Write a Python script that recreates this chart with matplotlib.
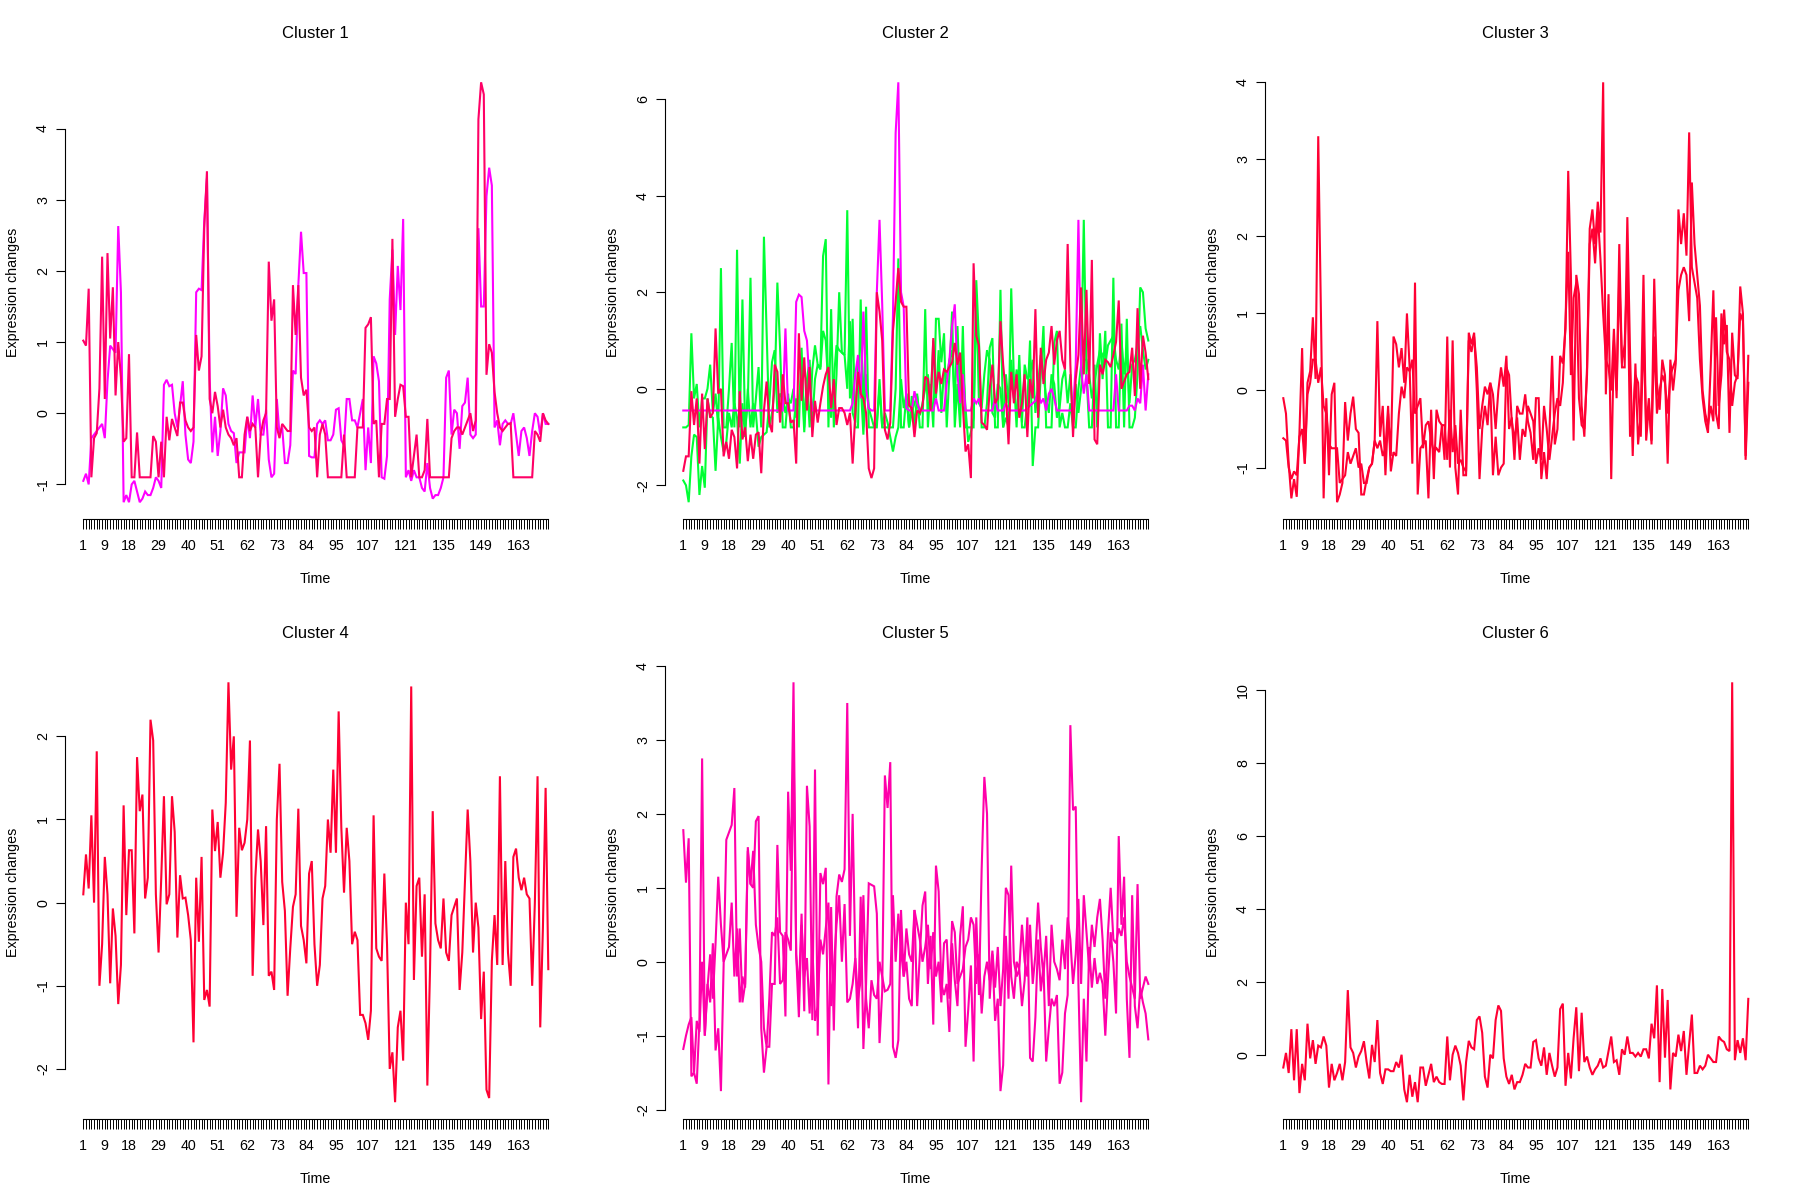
import numpy as np
import matplotlib
matplotlib.use("Agg")
import matplotlib.pyplot as plt

plt.rcParams['font.family'] = ['Liberation Sans', 'DejaVu Sans']

N_TIME = 174
time = np.arange(1, N_TIME + 1)
time_labels = [1, 9, 18, 29, 40, 51, 62, 73, 84, 95, 107, 121, 135, 149, 163]

# ---------------- Cluster 1 ----------------
c1_red = [
    1.02, 0.95, 1.75, -0.9, -0.35, -0.28, 0.35, 2.2, 0.2, 2.25,
    1.05, 1.77, 0.25, 1.0, 0.5, -0.4, -0.35, 0.83, -0.9, -0.9,
    -0.27, -0.9, -0.9, -0.9, -0.9, -0.9, -0.32, -0.4, -0.9, -0.4,
    -0.9, -0.05, -0.38, -0.08, -0.2, -0.32, 0.15, 0.15, -0.1, -0.2,
    -0.25, -0.2, 1.1, 0.6, 0.8, 2.6, 3.4, 0.2, 0.0, 0.3,
    0.1, -0.2, 0.05, -0.2, -0.3, -0.35, -0.45, -0.35, -0.9, -0.9,
    -0.3, -0.05, -0.25, -0.15, -0.2, -0.9, -0.3, -0.1, 0.0, 2.13,
    1.3, 1.6, -0.2, -0.35, -0.15, -0.2, -0.25, -0.25, 1.8, 1.1,
    1.8, 0.5, 0.25, 0.33, -0.2, -0.25, -0.2, -0.9, -0.3, -0.15,
    -0.3, -0.9, -0.9, -0.9, -0.9, -0.9, -0.9, -0.3, -0.9, -0.9,
    -0.9, -0.9, -0.2, -0.2, -0.2, 1.2, 1.25, 1.35, -0.15, -0.1,
    -0.9, -0.15, -0.15, 0.2, 0.2, 2.45, -0.05, 0.2, 0.4, 0.38,
    -0.05, -0.05, -0.9, -0.6, -0.3, -0.9, -0.9, -0.8, -0.08, -0.9,
    -0.9, -0.9, -0.9, -0.9, -0.9, -0.9, -0.9, -0.35, -0.25, -0.2,
    -0.2, -0.3, -0.2, -0.1, 0.0, -0.25, -0.1, 4.13, 4.65, 4.48,
    0.54, 0.97, 0.85, 0.3, 0.0, -0.2, -0.25, -0.2, -0.15, -0.14,
    -0.9, -0.9, -0.9, -0.9, -0.9, -0.9, -0.9, -0.9, -0.25, -0.3,
    -0.4, 0.0, -0.1, -0.15]
c1_magenta = [
    -0.95, -0.85, -1.0, -0.35, -0.3, -0.25, -0.2, -0.15, -0.35, 0.45,
    0.95, 0.9, 0.85, 2.63, 1.7, -1.25, -1.15, -1.25, -1.0, -0.95,
    -1.1, -1.25, -1.2, -1.1, -1.15, -1.15, -1.05, -0.9, -0.95, -1.05,
    0.4, 0.47, 0.38, 0.4, 0.0, -0.2, 0.1, 0.45, -0.3, -0.65,
    -0.7, -0.4, 1.7, 1.75, 1.73, 2.7, 3.3, 0.5, -0.55, -0.05,
    -0.6, -0.25, 0.35, 0.25, -0.15, -0.25, -0.28, -0.7, -0.55, -0.55,
    -0.55, -0.05, -0.35, 0.25, -0.2, 0.2, -0.3, -0.3, 0.05, -0.65,
    -0.9, -0.85, 0.2, -0.3, -0.2, -0.7, -0.7, -0.45, 0.6, 0.55,
    1.8, 2.55, 1.97, 1.97, -0.6, -0.62, -0.62, -0.15, -0.1, -0.15,
    -0.1, -0.38, -0.38, -0.3, 0.05, 0.07, -0.38, -0.45, 0.2, 0.2,
    -0.1, -0.1, -0.2, 0.0, 0.2, -0.8, -0.2, -0.7, 0.8, 0.7,
    0.45, -0.9, -0.92, -0.6, 1.6, 2.3, 1.1, 2.07, 1.45, 2.73,
    -0.9, -0.8, -0.95, -0.8, -0.9, -0.9, -1.05, -1.1, -0.7, -1.05,
    -1.2, -1.15, -1.15, -1.05, -0.9, 0.5, 0.6, -0.3, 0.05, 0.0,
    -0.5, 0.1, 0.15, 0.5, -0.3, -0.35, -0.3, 2.6, 1.5, 1.5,
    3.05, 3.45, 3.2, -0.2, -0.1, -0.45, -0.15, -0.1, -0.15, -0.15,
    0.0, -0.3, -0.6, -0.25, -0.2, -0.35, -0.6, -0.25, 0.0, -0.05,
    -0.3, 0.0, -0.15, -0.15]

# ---------------- Cluster 2 ----------------
c2_green_a = [
    -0.8, -0.8, -0.75, 1.15, -0.2, 0.1, -0.8, -0.2, -0.2, 0.0,
    0.5, -0.5, -0.1, -0.8, 2.5, -0.8, -0.8, 0.0, 0.95, -0.8,
    2.88, -0.8, 1.85, -0.8, -0.3, 2.3, -0.8, -0.2, 0.45, -0.8,
    3.15, 1.2, -0.8, -0.5, 0.0, 2.2, 0.85, -0.8, -0.8, -0.1,
    -0.8, -0.8, -0.2, -0.8, 0.85, -0.8, 0.2, -0.8, 0.4, 0.9,
    0.5, 0.45, 2.75, 3.1, -0.8, 1.65, -0.8, 0.3, 2.0, 0.75,
    0.7, 3.7, -0.2, 1.45, -0.8, -0.8, 1.85, -0.8, 1.7, -0.8,
    -0.8, -0.8, -0.8, 0.2, -0.8, -0.8, -0.8, -0.8, -0.8, 0.0,
    2.7, -0.8, -0.8, -0.1, -0.8, -0.15, -0.8, -0.1, -0.8, -0.8,
    1.65, -0.8, 0.1, -0.8, 1.45, 1.45, 0.55, 1.15, -0.8, 0.3,
    1.6, -0.8, 0.1, -0.8, 1.3, -0.8, -0.8, -0.8, -0.8, 2.25,
    1.0, -0.8, -0.8, -0.3, 0.85, 1.05, -0.8, -0.8, 2.05, -0.8,
    -0.6, -0.8, 2.08, 0.2, -0.8, 0.7, -0.8, -0.8, -0.3, 1.0,
    -1.6, -0.8, -0.8, 0.3, 1.3, -0.8, -0.8, -0.8, 0.95, 1.2,
    -0.8, -0.5, -0.8, -0.8, -0.3, -0.8, -0.8, 0.0, 0.5, 3.5,
    0.3, -0.8, -0.8, 0.5, -0.8, 1.15, 0.2, 1.2, -0.8, -0.8,
    2.3, -0.8, -0.8, 1.35, -0.8, 1.45, -0.8, -0.8, -0.6, 0.3,
    2.1, 2.0, 1.25, 1.0]
c2_green_b = [
    -1.9, -2.0, -2.35, -1.4, -0.95, -1.0, -2.2, -1.6, -2.05, -0.2,
    -0.55, -0.6, -1.7, -0.6, -1.0, -1.3, -1.1, -0.5, -0.8, -0.3,
    -0.6, -1.55, -0.3, -1.0, 0.0, -0.8, -0.3, -0.5, -1.2, -1.0,
    -0.95, -0.9, -0.3, 0.55, 0.8, -0.5, -0.1, -0.2, -0.5, -0.2,
    -0.3, 0.0, -0.6, -0.2, 0.3, -0.9, 0.2, 0.6, -0.7, 0.2,
    0.5, 0.4, 1.2, 1.0, 0.0, -0.6, 0.2, 0.9, 0.8, 0.75,
    0.7, 0.0, 1.4, -0.5, -0.7, 0.5, 0.1, -0.95, 0.3, -0.4,
    -0.6, -0.8, -0.7, 0.0, -0.8, -0.5, -0.7, -1.0, -1.3, -1.0,
    -0.8, 0.2, -0.4, -0.1, -0.8, -0.5, -0.3, -0.15, -0.55, -0.3,
    0.0, 0.3, -0.3, 1.0, -0.2, 0.8, -0.5, 0.4, 0.2, 0.6,
    0.8, -0.3, 1.3, -0.2, 0.5, -0.4, -1.1, -0.9, -0.6, 1.9,
    -0.3, -0.4, 0.3, 0.8, 0.6, -0.5, -0.6, 0.1, 0.0, -0.8,
    0.3, -0.3, 0.6, -0.2, 0.4, 0.1, -0.7, 0.5, 0.2, 0.3,
    0.6, -0.5, 0.1, 0.7, 0.3, -0.2, -0.5, 0.3, 0.1, -0.6,
    -0.4, 0.2, 0.4, -0.3, 0.3, -0.7, 0.1, -0.5, 0.0, 0.6,
    0.6, 0.3, -0.2, 0.1, 0.5, 0.8, 0.7, 0.5, 0.9, 1.0,
    1.1, 0.6, 0.4, 1.0, 0.3, 0.8, -0.3, 0.5, 0.6, 0.9,
    1.3, 0.8, 0.4, 0.6]
c2_magenta = [
    -0.45, -0.45, -0.45, -0.45, -0.45, -0.45, -0.45, -0.45, -0.45, -0.45,
    -0.45, -0.45, -0.45, -0.45, -0.45, -0.45, -0.45, -0.45, -0.45, -0.45,
    -0.45, -0.45, -0.45, -0.45, -0.45, -0.45, -0.45, -0.45, -0.45, -0.45,
    -0.45, -0.45, -0.45, -0.45, -0.45, -0.45, -0.45, -0.45, 1.25, -0.45,
    -0.45, -0.45, 1.8, 1.95, 1.9, 1.2, 1.0, 0.1, -0.45, -0.45,
    -0.45, -0.45, -0.45, -0.45, -0.45, -0.45, -0.45, -0.45, -0.45, -0.45,
    -0.45, -0.45, -0.45, -0.3, 0.3, 0.7, -0.2, 1.6, 0.0, -0.4,
    -0.45, -0.45, 2.0, 3.5, 1.75, -0.45, -0.45, -0.45, 1.5, 5.3,
    6.35, 2.0, 1.7, -0.4, -0.45, -0.45, -0.05, -0.3, -0.45, -0.45,
    -0.45, -0.45, -0.45, -0.45, -0.2, -0.45, -0.45, -0.45, 0.1, 0.6,
    1.3, 1.75, 0.3, -0.3, 0.3, -0.45, -0.45, -0.45, -0.2, -0.3,
    -0.2, -0.45, -0.45, -0.45, -0.45, -0.45, -0.2, -0.45, -0.45, -0.45,
    -0.3, -0.45, -0.45, -0.45, -0.45, -0.45, -0.45, -0.45, -0.4, -0.35,
    -0.3, -0.25, -0.05, -0.3, -0.2, -0.45, -0.1, 0.0, -0.2, -0.45,
    -0.45, -0.45, -0.45, -0.45, -0.45, -0.45, 0.5, 3.5, 0.4, -0.1,
    0.3, -0.45, -0.45, -0.45, -0.45, -0.45, -0.45, -0.45, -0.45, -0.45,
    -0.45, 0.3, -0.45, -0.45, -0.45, -0.45, -0.35, -0.35, -0.45, -0.2,
    -0.3, 0.5, -0.45, 0.3]
c2_red = [
    -1.7, -1.4, -1.4, -0.05, -0.75, -0.2, -1.55, -0.1, -1.25, -0.2,
    -0.6, -0.5, 1.25, -0.1, 0.0, -1.4, -1.1, -1.45, -0.85, -1.0,
    -1.65, -0.05, -1.05, -0.8, -1.5, -0.95, -1.45, -0.95, -0.9, -1.75,
    -0.45, 0.15, -0.7, -0.9, 0.5, 0.35, -0.7, 0.3, -0.3, -0.3,
    -0.7, -0.65, -1.55, 1.15, -0.25, 0.65, -0.45, 0.45, -1.0, -0.25,
    -0.7, -0.3, 0.05, 0.3, 0.45, -0.4, 0.2, -0.75, -0.4, -0.4,
    -0.5, -0.75, -0.5, -1.55, -0.5, 0.35, -0.1, -0.2, -0.5, -1.65,
    -1.85, -1.65, 2.0, 1.6, 1.0, -0.85, -1.05, -0.7, 1.2, 1.8,
    2.5, 1.8, 1.7, 1.7, -0.35, -0.4, -1.0, -0.45, -0.5, -0.35,
    0.25, 0.2, -0.45, 1.05, -0.1, 0.35, 0.1, 0.4, 0.35, 0.45,
    0.55, 0.95, 0.5, 0.75, -0.35, -1.3, -1.15, -1.85, 2.6, 1.1,
    0.9, -0.7, -0.75, -0.85, 0.0, 0.5, -0.3, -0.2, 1.4, 0.5,
    -0.1, -1.15, 0.35, -0.3, 0.3, -0.6, -0.3, 0.3, -1.0, 0.2,
    -0.2, 1.65, -0.6, 0.85, 0.1, 0.6, 0.75, 1.3, 0.5, 1.0,
    1.2, 0.6, 0.4, 3.0, 0.5, -1.0, 0.2, 0.7, 2.1, 0.3,
    2.05, 0.1, 2.67, -1.05, -1.15, 0.5, 0.3, 0.6, 0.55, 0.45,
    0.7, 0.97, 1.83, 0.0, 0.15, 0.3, 0.35, 0.85, -0.15, 1.67,
    0.0, 1.1, 0.75, 0.2]

# ---------------- Cluster 3 ----------------
c3_red_a = [
    -0.1, -0.3, -0.95, -1.4, -1.15, -1.38, -0.55, 0.55, -0.95, 0.1,
    0.25, 0.95, 0.15, 3.3, 1.0, -1.4, -0.1, -1.1, -0.05, 0.1,
    -1.45, -1.35, -1.2, -0.15, -0.65, -0.3, -0.08, -0.5, -0.55, -1.35,
    -1.35, -1.15, -1.0, -0.95, -0.65, 0.9, -0.6, -0.2, -1.1, -0.3,
    -0.85, 0.7, 0.6, 0.3, 0.55, 0.1, 1.0, 0.3, -0.95, 1.4,
    -1.35, -0.75, -0.7, -0.65, -1.4, -0.25, -1.15, -0.25, -0.4, -0.45,
    -0.9, 0.7, -1.0, 0.65, -1.0, -1.35, -0.25, -1.1, -1.1, 0.75,
    0.6, 0.75, 0.0, -1.15, -0.5, -0.2, -0.45, 0.1, -0.05, -0.5,
    0.0, 0.3, 0.05, 0.45, -0.5, -0.35, -0.9, -0.2, -0.3, -0.3,
    -0.05, -0.4, -0.55, -0.9, -0.1, -0.1, -1.15, -0.8, -1.15, -0.55,
    0.45, -0.7, -0.5, 0.45, 0.35, 0.8, 2.85, 1.5, -0.65, 1.5,
    1.25, -0.2, -0.6, 0.3, 2.1, 2.35, 1.9, 2.45, 2.05, 4.0,
    -0.05, 1.25, -1.15, 0.65, 0.0, 1.9, 0.3, 0.3, 2.25, 0.5,
    -0.85, 0.35, -0.7, -0.3, 1.5, -0.65, -0.2, -0.65, 1.45, 0.1,
    -0.25, 0.4, 0.2, -0.95, 0.4, 0.0, 0.35, 2.35, 1.9, 2.3,
    1.75, 3.35, 1.6, 1.4, 1.2, 0.4, -0.1, -0.4, -0.55, 0.3,
    1.3, -0.3, -0.5, 1.0, 0.6, 0.85, -0.55, 0.75, 0.2, 0.15,
    1.35, 1.0, -0.85, 0.45]
c3_red_b = [
    -0.62, -0.65, -1.0, -1.15, -1.05, -1.1, -0.6, -0.5, -0.95, -0.05,
    0.1, 0.4, 0.4, 0.1, 0.3, -0.2, -0.3, -0.7, -0.75, -0.75,
    -0.75, -1.2, -1.15, -1.1, -0.8, -0.95, -0.85, -0.75, -1.0, -0.95,
    -1.2, -1.2, -1.0, -0.95, -0.65, -0.75, -0.65, -0.85, -0.75, -0.2,
    -1.05, -0.8, -0.85, -0.3, 0.05, -0.1, 0.3, 0.25, 0.4, -0.3,
    -0.2, -0.1, -0.75, -0.45, -0.4, -0.65, -0.8, -0.75, -0.8, -0.45,
    -0.45, -0.9, -0.25, -0.8, -0.45, -0.95, -0.9, -1.0, -1.05, 0.65,
    0.5, 0.7, 0.3, -0.5, -0.2, 0.05, -0.05, 0.1, -1.1, -0.6,
    -1.1, -1.0, -0.95, 0.3, 0.2, -0.4, -0.65, -0.35, -0.9, -0.5,
    -0.6, -0.2, -0.3, -0.4, -0.95, -0.75, -0.9, -0.2, -0.5, -0.9,
    -0.6, -0.3, -0.1, -0.2, 0.1, 0.9, 1.8, 0.2, 1.2, 1.4,
    -0.1, -0.45, -0.5, 0.2, 1.9, 2.1, 1.65, 2.3, 1.7, 1.0,
    0.4, 0.3, 0.0, 0.8, -0.1, 1.5, 0.35, 0.6, 1.6, -0.6,
    -0.4, 0.2, 0.1, -0.6, 0.8, -0.5, -0.1, -0.7, 0.7, -0.3,
    0.0, 0.2, 0.1, -0.3, 0.2, 0.3, 0.4, 1.3, 1.5, 1.6,
    1.5, 0.9, 2.7, 1.9, 1.5, 1.1, 0.0, -0.3, -0.45, -0.2,
    -0.4, 0.95, -0.2, 0.2, 1.05, 0.5, 0.4, -0.2, 0.1, 0.2,
    1.0, 0.9, -0.9, 0.1]

# ---------------- Cluster 4 ----------------
c4_red = [
    0.1, 0.58, 0.17, 1.05, 0.0, 1.82, -1.0, -0.5, 0.55, 0.1,
    -0.97, -0.07, -0.4, -1.22, -0.75, 1.17, -0.15, 0.63, 0.63, -0.37,
    1.75, 1.1, 1.3, 0.05, 0.3, 2.2, 1.95, 0.1, -0.6, 0.3,
    1.28, -0.02, 0.1, 1.28, 0.85, -0.42, 0.33, 0.05, 0.06, -0.15,
    -0.45, -1.68, 0.3, -0.47, 0.55, -1.17, -1.05, -1.25, 1.12, 0.62,
    0.97, 0.3, 0.6, 1.2, 2.65, 1.6, 2.0, -0.17, 0.9, 0.63,
    0.72, 1.0, 1.95, -0.88, 0.3, 0.88, 0.5, -0.27, 0.92, -0.88,
    -0.83, -1.05, 1.0, 1.67, 0.25, -0.1, -1.12, -0.55, -0.05, 0.1,
    1.13, -0.28, -0.45, -0.73, 0.35, 0.5, -0.5, -1.0, -0.75, 0.05,
    0.2, 1.0, 0.6, 1.6, 0.6, 2.3, 0.9, 0.12, 0.9, 0.5,
    -0.5, -0.35, -0.45, -1.35, -1.35, -1.45, -1.65, -1.3, 1.05, -0.55,
    -0.65, -0.7, 0.35, -0.5, -2.0, -1.8, -2.4, -1.5, -1.3, -1.9,
    0.0, -0.5, 2.6, -0.93, 0.2, 0.3, -0.65, 0.1, -2.2, -0.8,
    1.1, -0.25, -0.45, -0.55, 0.05, -0.6, -0.7, -0.15, -0.05, 0.05,
    -1.05, -0.6, 0.25, 1.12, 0.5, -0.6, 0.0, -0.3, -1.4, -0.83,
    -2.25, -2.35, -0.7, -0.15, -0.75, 1.52, -0.75, 0.5, -0.6, -1.0,
    0.55, 0.65, 0.3, 0.15, 0.3, 0.1, 0.05, -1.0, 0.0, 1.52,
    -1.5, -0.3, 1.38, -0.8]

# ---------------- Cluster 5 ----------------
c5_pink_a = [
    1.78, 1.07, 1.67, -1.55, -1.5, -1.65, -0.8, 2.75, -1.0, -0.3,
    -0.55, 0.25, -1.2, -0.9, -1.75, -0.05, 1.65, 1.75, 1.85, 2.35,
    -0.2, 0.45, -0.55, -0.3, 1.55, 1.05, 1.0, 1.9, 1.97, -0.9,
    -1.5, -1.15, -1.15, -0.3, -0.3, 1.58, 0.4, 0.35, -0.74, 2.3,
    1.23, 3.78, 0.1, -0.4, 0.65, -0.67, 2.38, 1.83, -0.79, 2.6,
    -1.0, 1.2, 1.05, 1.27, -1.66, 0.74, -0.93, 0.88, 1.18, 1.08,
    1.25, 3.5, 0.35, 2.0, 0.0, -0.9, 0.88, -1.18, -0.3, 1.06,
    1.04, 1.02, 0.65, -1.1, -0.4, 2.52, 2.08, 2.7, -1.15, -1.3,
    -1.06, 0.7, -0.2, 0.45, 0.1, 0.0, 0.7, -0.6, 0.1, 0.76,
    0.95, -0.3, 0.35, -0.85, 1.3, 0.95, -0.3, -0.45, -0.3, -0.95,
    0.25, -0.25, -0.6, 0.35, 0.75, -1.15, -0.65, -0.05, -1.35, 0.6,
    -0.45, 1.25, 2.5, 2.0, -0.5, 0.1, -0.8, -0.5, -1.75, -1.4,
    0.35, -0.5, 1.3, 0.0, -0.2, -0.1, -0.6, -0.25, 0.6, -1.3,
    -1.35, -0.75, 0.3, -0.4, -0.05, -1.35, -0.9, -0.5, -0.6, -0.45,
    -1.65, -1.5, -0.7, -0.45, 3.2, 2.05, 2.1, -0.3, -1.9, -0.5,
    -1.35, 0.2, -0.35, 0.05, -0.3, -0.15, -0.3, -1.0, -0.25, 0.4,
    0.0, -0.7, 1.7, 0.5, 1.15, -0.5, -1.3, 0.9, -0.6, -0.9,
    -0.35, -0.55, -0.7, -1.05]
c5_pink_b = [
    -1.18, -1.0, -0.85, -0.75, -1.5, -0.8, -0.95, 0.0, -1.0, -0.35,
    0.1, -0.5, 0.25, 1.15, 0.5, 0.0, 0.1, 0.2, 0.8, -0.2,
    0.45, -0.55, -0.2, -0.35, 1.5, 1.05, 1.5, 0.5, 0.2, 0.0,
    -0.9, -1.15, -0.5, 0.4, 0.35, 0.6, -0.3, -0.25, 0.4, 0.3,
    0.15, 3.0, 0.1, -0.75, 0.5, -0.2, 0.05, -0.7, 0.25, -0.8,
    -0.6, 0.3, 0.1, 0.45, 0.8, -0.6, -0.1, 0.5, 0.9, 0.0,
    0.78, -0.55, -0.5, -0.3, 0.05, -0.5, -0.25, 0.9, -0.5, -0.9,
    -0.25, -0.45, -0.5, 0.0, -0.2, -0.4, -0.38, -0.3, 0.9, 0.0,
    0.65, 0.15, -0.2, 0.0, -0.5, -0.6, 0.7, 0.5, 0.3, 0.0,
    0.2, 0.5, -0.1, 0.4, -0.2, 0.0, -0.55, 0.25, 0.3, -0.5,
    0.55, 0.4, -0.3, -0.2, -0.1, 0.2, 0.3, 0.6, 0.5, -0.3,
    0.1, -0.7, -0.2, 0.0, -0.25, 0.15, -0.35, 0.2, -0.6, -0.1,
    1.0, 0.9, -0.2, -0.5, 0.0, -0.1, 0.5, 0.0, -0.2, 0.5,
    -0.3, 0.1, 0.8, 0.2, -0.2, 0.35, -0.6, 0.5, 0.0, -0.1,
    -0.25, 0.3, -0.1, 0.6, 0.3, -0.3, 0.1, 0.85, -0.3, 0.9,
    0.4, -0.1, 0.5, 0.2, 0.6, 0.85, 0.3, -0.5, 0.4, 1.0,
    0.3, 0.25, 0.45, 0.35, 0.6, 0.0, -0.2, -0.35, -0.5, 1.05,
    -0.5, -0.35, -0.2, -0.3]

# ---------------- Cluster 6 ----------------
c6_red = [
    -0.35, 0.05, -0.5, 0.7, -0.7, 0.7, -1.05, -0.25, -0.7, 0.85,
    -0.1, 0.4, -0.25, 0.25, 0.2, 0.5, 0.25, -0.9, -0.25, -0.7,
    -0.5, -0.25, -0.7, -0.2, 1.77, 0.2, 0.05, -0.35, -0.05, 0.1,
    0.37, -0.2, -0.65, 0.27, -0.2, 0.95, -0.5, -0.8, -0.4, -0.4,
    -0.45, -0.45, -0.2, -0.35, 0.0, -0.95, -1.3, -0.55, -1.15, -0.75,
    -1.3, -0.35, -0.35, -0.85, -0.55, -0.25, -0.75, -0.6, -0.75, -0.8,
    -0.8, 0.5, -0.7, 0.0, 0.25, 0.05, -0.3, -1.25, -0.2, 0.38,
    0.2, 0.15, 0.95, 1.05, 0.6, -0.6, -0.9, 0.0, -0.1, 0.95,
    1.35, 1.2, -0.1, -0.6, -0.8, -0.55, -0.95, -0.75, -0.75, -0.55,
    -0.25, -0.35, -0.35, 0.35, 0.4, -0.1, -0.3, 0.2, -0.55, 0.05,
    -0.3, -0.6, -0.35, 1.25, 1.4, -0.85, 0.05, -0.65, 0.45, 1.3,
    -0.45, 1.15, -0.2, -0.05, -0.35, -0.55, -0.4, -0.3, -0.1, -0.35,
    -0.3, 0.1, 0.5, -0.2, -0.15, -0.55, 0.15, 0.0, 0.5, 0.05,
    0.05, -0.05, 0.05, -0.05, 0.15, 0.15, -0.1, 0.85, 0.45, 1.9,
    -0.75, 1.8, -0.08, 1.5, -0.95, 0.05, -0.05, 0.55, 0.1, 0.65,
    -0.55, 0.3, 1.1, -0.5, -0.5, -0.3, -0.4, -0.3, 0.0, -0.1,
    -0.2, -0.2, 0.5, 0.4, 0.35, 0.15, 0.1, 10.2, -0.15, 0.4,
    0.05, 0.45, -0.15, 1.53]

RED = "#FF0033"
RED_PINK = "#FF0066"
MAGENTA = "#FF00FF"
GREEN = "#00FF33"
PINK = "#FF00AA"

panels = [
    ("Cluster 1", [(c1_magenta, MAGENTA), (c1_red, RED_PINK)], [-1, 0, 1, 2, 3, 4]),
    ("Cluster 2", [(c2_green_a, GREEN), (c2_green_b, GREEN), (c2_magenta, MAGENTA),
                   (c2_red, "#FF0055")], [-2, 0, 2, 4, 6]),
    ("Cluster 3", [(c3_red_b, RED), (c3_red_a, RED)], [-1, 0, 1, 2, 3, 4]),
    ("Cluster 4", [(c4_red, RED)], [-2, -1, 0, 1, 2]),
    ("Cluster 5", [(c5_pink_b, PINK), (c5_pink_a, PINK)], [-2, -1, 0, 1, 2, 3, 4]),
    ("Cluster 6", [(c6_red, RED)], [0, 2, 4, 6, 8, 10]),
]

for _, series, _ in panels:
    for s, _c in series:
        assert len(s) == N_TIME, len(s)

W, H = 1800, 1200
fig = plt.figure(figsize=(W / 100, H / 100), dpi=100)

xlabels = [str(t) if t in time_labels else "" for t in time]

AX_TOP, AX_BOTTOM = 65.5, 519.0
AX_H = AX_BOTTOM - AX_TOP
FS = 10.3

for idx, (title, series, yticks) in enumerate(panels):
    r, c = divmod(idx, 3)
    left = (c * 600 + 64.7) / W
    bottom = 1 - (r * 600 + AX_BOTTOM) / H
    ax = fig.add_axes([left, bottom, 502.2 / W, AX_H / H])
    for s, col in series:
        ax.plot(time, s, color=col, lw=1.5, solid_joinstyle="miter")
    ax.margins(x=0.04, y=0.04)
    ax.set_xticks(time)
    ax.set_xticklabels(xlabels)
    ax.set_yticks(yticks)
    ax.set_yticklabels([str(v) for v in yticks])
    for sp in ("top", "right"):
        ax.spines[sp].set_visible(False)
    ax.spines["left"].set_bounds(yticks[0], yticks[-1])
    ax.spines["bottom"].set_bounds(1, N_TIME)
    for sp in ("left", "bottom"):
        ax.spines[sp].set_linewidth(0.8)
    ax.tick_params(axis="x", length=7.2, width=0.7, pad=7.0, labelsize=FS)
    ax.tick_params(axis="y", length=6.5, width=0.8, pad=4.0, labelsize=FS,
                   labelrotation=90)
    for lab in ax.get_yticklabels():
        lab.set_va("center")
    ax.set_xlabel("Time", fontsize=FS)
    ax.set_ylabel("Expression changes", fontsize=FS)
    ax.xaxis.set_label_coords(0.5, -0.1160)
    ax.yaxis.set_label_coords(-0.089, 0.5)
    ax.set_title(title, fontsize=12, pad=19.8)

fig.savefig("out.png", dpi=100)
